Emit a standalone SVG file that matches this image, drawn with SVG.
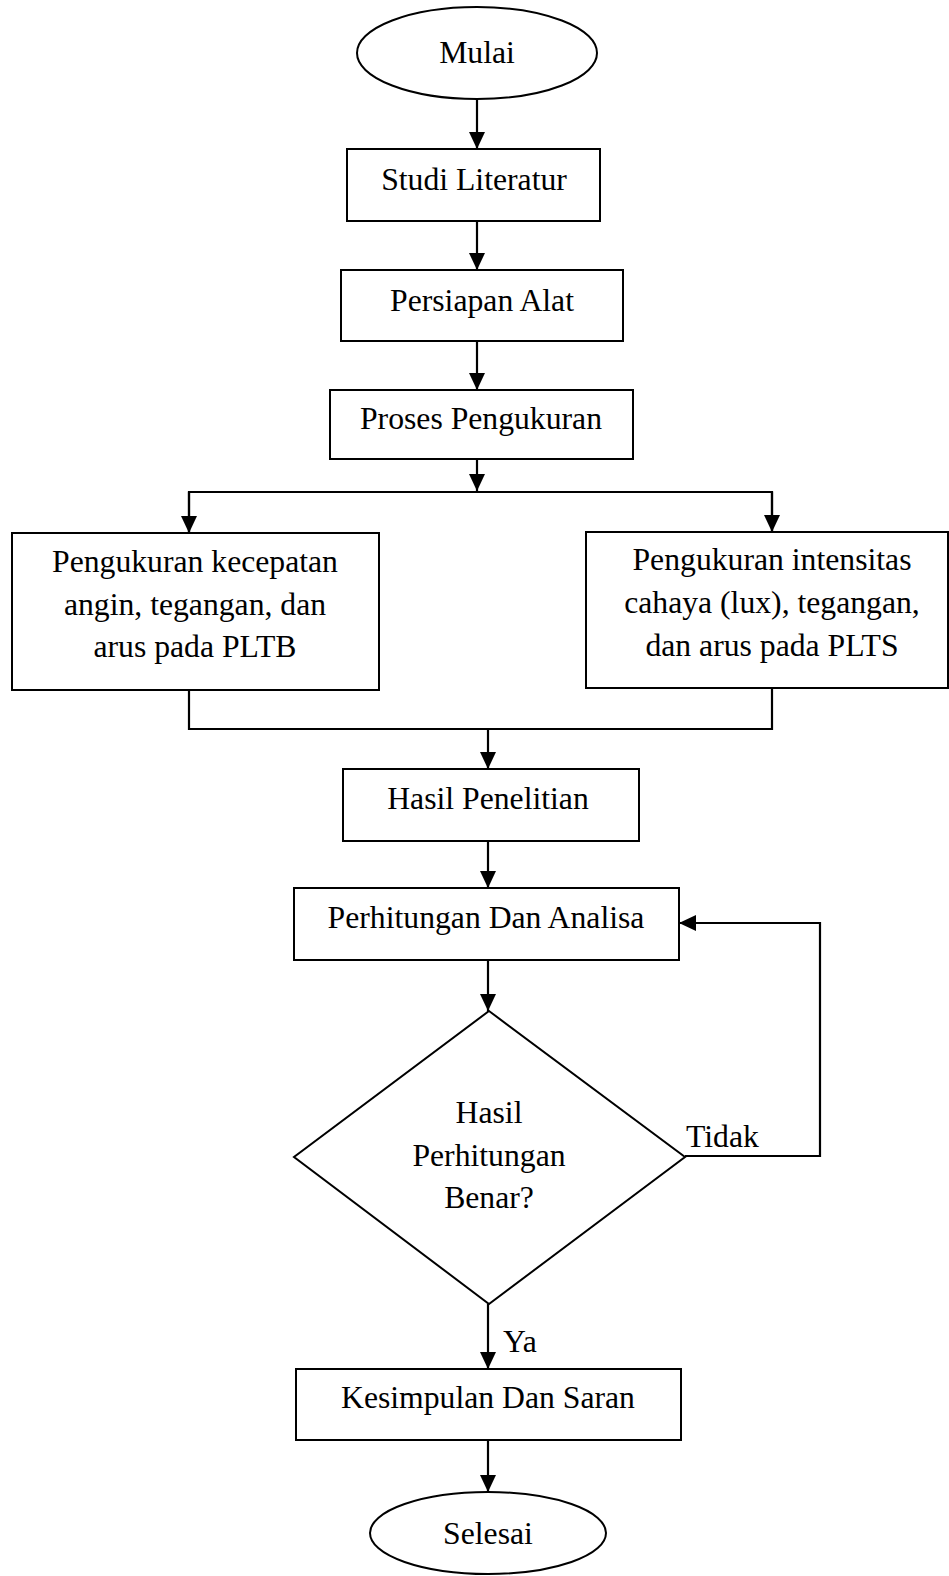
<svg xmlns="http://www.w3.org/2000/svg" width="949" height="1576" viewBox="0 0 949 1576">
<style>
.s{fill:#fff;stroke:#000;stroke-width:2}
.c{fill:none;stroke:#000;stroke-width:2.2}
text{font-family:"Liberation Serif","Times New Roman",serif;font-size:31.7px;fill:#000;text-anchor:middle}
.l{text-anchor:start}
</style>
<defs>
<marker id="ah" markerWidth="17" markerHeight="16" refX="17" refY="8" orient="auto" markerUnits="userSpaceOnUse">
<path d="M0,0 L17,8 L0,16 Z" fill="#000"/>
</marker>
</defs>
<rect width="949" height="1576" fill="#fff"/>
<g id="connectors">
<line class="c" x1="477" y1="99" x2="477" y2="149" marker-end="url(#ah)"/>
<line class="c" x1="477" y1="221" x2="477" y2="270" marker-end="url(#ah)"/>
<line class="c" x1="477" y1="341" x2="477" y2="390" marker-end="url(#ah)"/>
<line class="c" x1="477" y1="459" x2="477" y2="491" marker-end="url(#ah)"/>
<polyline class="c" points="189,533 189,492 772,492 772,532"/>
<line class="c" x1="189" y1="492" x2="189" y2="533" marker-end="url(#ah)"/>
<line class="c" x1="772" y1="492" x2="772" y2="532" marker-end="url(#ah)"/>
<polyline class="c" points="189,690 189,729 772,729 772,688"/>
<line class="c" x1="488" y1="729" x2="488" y2="769" marker-end="url(#ah)"/>
<line class="c" x1="488" y1="841" x2="488" y2="888" marker-end="url(#ah)"/>
<line class="c" x1="488" y1="960" x2="488" y2="1011" marker-end="url(#ah)"/>
<polyline class="c" points="685,1156 820,1156 820,923 690,923"/>
<line class="c" x1="820" y1="923" x2="679" y2="923" marker-end="url(#ah)"/>
<line class="c" x1="488" y1="1304" x2="488" y2="1369" marker-end="url(#ah)"/>
<line class="c" x1="488" y1="1440" x2="488" y2="1492" marker-end="url(#ah)"/>
<text class="l" x="686" y="1147">Tidak</text>
<text class="l" x="503" y="1352">Ya</text>
</g>
<g id="mulai">
<ellipse class="s" cx="477" cy="53" rx="120" ry="46"/>
<text x="477" y="63">Mulai</text>
</g>
<g id="studi">
<rect class="s" x="347" y="149" width="253" height="72"/>
<text x="474" y="190">Studi Literatur</text>
</g>
<g id="persiapan">
<rect class="s" x="341" y="270" width="282" height="71"/>
<text x="482" y="311">Persiapan Alat</text>
</g>
<g id="proses">
<rect class="s" x="330" y="390" width="303" height="69"/>
<text x="481" y="429">Proses Pengukuran</text>
</g>
<g id="pltb">
<rect class="s" x="12" y="533" width="367" height="157"/>
<text x="195" y="572">Pengukuran kecepatan</text>
<text x="195" y="615">angin, tegangan, dan</text>
<text x="195" y="657">arus pada PLTB</text>
</g>
<g id="plts">
<rect class="s" x="586" y="532" width="362" height="156"/>
<text x="772" y="570">Pengukuran intensitas</text>
<text x="772" y="613">cahaya (lux), tegangan,</text>
<text x="772" y="656">dan arus pada PLTS</text>
</g>
<g id="hasil">
<rect class="s" x="343" y="769" width="296" height="72"/>
<text x="488" y="809">Hasil Penelitian</text>
</g>
<g id="perhitungan">
<rect class="s" x="294" y="888" width="385" height="72"/>
<text x="486" y="928">Perhitungan Dan Analisa</text>
</g>
<g id="decision">
<polygon class="s" points="489,1011 685,1157 489,1304 294,1157"/>
<text x="489" y="1123">Hasil</text>
<text x="489" y="1166">Perhitungan</text>
<text x="489" y="1208">Benar?</text>
</g>
<g id="kesimpulan">
<rect class="s" x="296" y="1369" width="385" height="71"/>
<text x="488" y="1408">Kesimpulan Dan Saran</text>
</g>
<g id="selesai">
<ellipse class="s" cx="488" cy="1533" rx="118" ry="41"/>
<text x="488" y="1544">Selesai</text>
</g>
</svg>
